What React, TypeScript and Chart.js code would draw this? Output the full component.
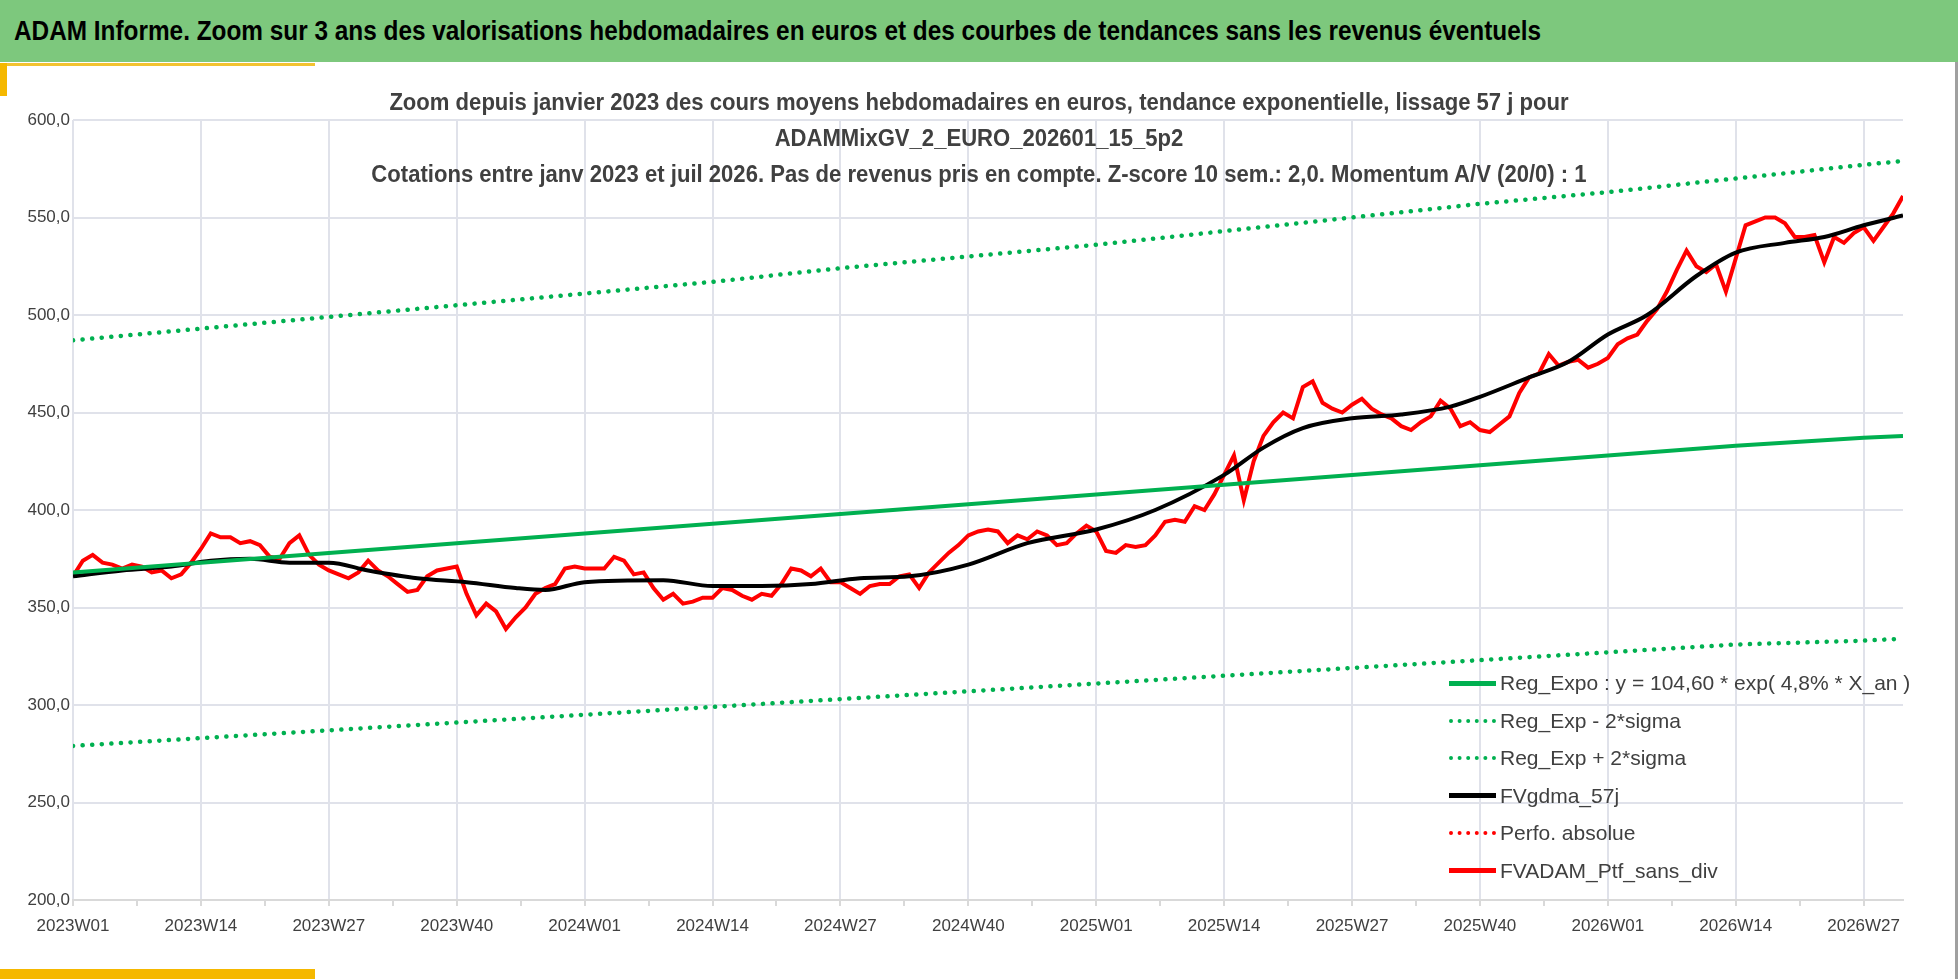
import React, { useEffect, useRef } from "react";
import { Chart, registerables } from "chart.js";
Chart.register(...registerables);

const years = [2023, 2024, 2025, 2026];
const weeksPerYear = [52, 52, 52, 53];
const tickStep = 13;

const trendIdx = [0, 13, 26, 39, 52, 65, 78, 91, 104, 117, 130, 143, 156, 169, 182, 186];
const regExpo = [368, 373, 378, 383, 388, 393, 398, 403, 408, 413, 418, 423, 428, 433, 437, 438];
const regUpper = [487, 493, 499, 505, 511, 517, 524, 530, 536, 543, 550, 557, 563, 570, 577, 579];
const regLower = [279, 283, 287, 291, 295, 299, 303, 307, 311, 315, 319, 323, 327, 331, 333, 334];

const maIdx = [0, 5, 10, 14, 18, 22, 26, 30, 35, 40, 45, 48, 52, 60, 65, 70, 75, 80, 85, 91, 97, 104, 110, 117, 121, 125, 130, 135, 140, 143, 148, 152, 156, 160, 165, 169, 174, 178, 182, 186];
const maVals = [366, 369, 371, 374, 375, 373, 373, 369, 365, 363, 360, 359, 363, 364, 361, 361, 362, 365, 366, 372, 383, 390, 400, 418, 432, 442, 447, 449, 453, 458, 468, 476, 490, 500, 520, 532, 537, 540, 546, 551];

const ptf = [
  366, 374, 377, 373, 372, 370, 372, 371, 368, 369, 365, 367, 373, 380, 388,
  386, 386, 383, 384, 382, 376, 375, 383, 387, 377, 372, 369,
  367, 365, 368, 374, 369, 366, 362, 358, 359, 366, 369, 370, 371, 357,
  346, 352, 348, 339, 345, 350, 357, 360, 362, 370, 371, 370,
  370, 370, 376, 374, 367, 368, 360, 354, 357, 352, 353, 355, 355, 360,
  359, 356, 354, 357, 356, 362, 370, 369, 366, 370, 363, 363,
  360, 357, 361, 362, 362, 366, 367, 360, 368, 373, 378, 382, 387,
  389, 390, 389, 383, 387, 385, 389, 387, 382, 383, 388, 392, 389,
  379, 378, 382, 381, 382, 387, 394, 395, 394, 402, 400, 408, 418, 428, 405, 425,
  438, 445, 450, 447, 463, 466, 455, 452, 450, 454, 457, 452, 449, 447, 443,
  441, 445, 448, 456, 452, 443, 445, 441, 440, 444, 448, 460, 468, 470, 480,
  474, 476, 477, 473, 475, 478, 485, 488, 490, 497, 503, 512, 523, 533, 525,
  522, 526, 512, 529, 546, 548, 550, 550, 547, 540, 540, 541, 527, 540, 537, 542, 545, 538, 545, 552, 561,
];

const legendItems = [
  { label: "Reg_Expo : y = 104,60 * exp( 4,8% *  X_an )", color: "#00B050", dotted: false },
  { label: "Reg_Exp - 2*sigma", color: "#00B050", dotted: true },
  { label: "Reg_Exp + 2*sigma", color: "#00B050", dotted: true },
  { label: "FVgdma_57j", color: "#000000", dotted: false },
  { label: "Perfo. absolue", color: "#FF0000", dotted: true },
  { label: "FVADAM_Ptf_sans_div", color: "#FF0000", dotted: false },
];

const weekLabels: string[] = [];
years.forEach((y, i) => {
  for (let w = 1; w <= weeksPerYear[i]; w++) weekLabels.push(`${y}W${String(w).padStart(2, "0")}`);
});

const pts = (idx: number[], v: number[]) => idx.map((x, i) => ({ x, y: v[i] }));

export default function App() {
  const ref = useRef<HTMLCanvasElement>(null);
  useEffect(() => {
    document.body.style.margin = "0";
    const font = "'Liberation Sans', sans-serif";
    const chart = new Chart(ref.current!, {
      type: "line",
      data: {
        datasets: [
          { data: pts(trendIdx, regUpper), borderColor: "#00B050", borderWidth: 4.5, borderDash: [0.1, 9.5], borderCapStyle: "round", pointRadius: 0 },
          { data: pts(trendIdx, regLower), borderColor: "#00B050", borderWidth: 4.5, borderDash: [0.1, 9.5], borderCapStyle: "round", pointRadius: 0 },
          { data: pts(trendIdx, regExpo), borderColor: "#00B050", borderWidth: 4, pointRadius: 0 },
          { data: pts(maIdx, maVals), borderColor: "#000000", borderWidth: 4, pointRadius: 0, cubicInterpolationMode: "monotone" },
          { data: [], borderColor: "#FF0000", borderWidth: 3, borderDash: [0.1, 9] },
          { data: ptf.map((y, x) => ({ x, y })), borderColor: "#FF0000", borderWidth: 4, pointRadius: 0 },
        ] as any,
      },
      options: {
        animation: false,
        responsive: false,
        layout: { padding: { left: 10, right: 55, top: 120, bottom: 30 } },
        plugins: { legend: { display: false }, tooltip: { enabled: false } },
        scales: {
          x: {
            type: "linear",
            min: 0,
            max: 186,
            afterFit: (s: any) => { s.height = 49; },
            afterBuildTicks: (s: any) => {
              const t = [];
              for (let v = 0; v <= 186; v += tickStep / 2) t.push({ value: v });
              s.ticks = t;
            },
            ticks: {
              autoSkip: false,
              maxRotation: 0,
              color: "#404040",
              font: { family: font, size: 17 },
              padding: 10,
              callback: (v: any) => (v % tickStep === 0 ? weekLabels[v] : ""),
            },
            grid: {
              color: (c: any) => (c.tick && c.tick.value % tickStep === 0 ? "#E0E2EA" : "rgba(0,0,0,0)"),
              tickColor: "#D9D9D9",
              tickLength: 6,
              lineWidth: 2,
            },
            border: { color: "#D9D9D9", width: 2 },
          },
          y: {
            min: 200,
            max: 600,
            afterFit: (s: any) => { s.width = 63; },
            ticks: { stepSize: 50, color: "#404040", font: { family: font, size: 17 }, callback: (v: any) => Number(v).toFixed(1).replace(".", ",") },
            grid: { color: "#E0E2EA", lineWidth: 2, drawTicks: false },
            border: { display: false },
          },
        },
      },
    });
    return () => chart.destroy();
  }, []);

  const font = "'Liberation Sans', sans-serif";
  return (
    <div style={{ position: "relative", width: 1958, height: 979, background: "#fff", overflow: "hidden", fontFamily: font }}>
      <div style={{ position: "absolute", left: 0, top: 0, width: 1958, height: 62, background: "#7DC87D", borderBottom: "2px solid #fff" }} />
      <div style={{ position: "absolute", left: 14, top: 15, fontSize: 28, fontWeight: "bold", color: "#000", whiteSpace: "nowrap", transform: "scaleX(0.87)", transformOrigin: "left center" }}>
        ADAM Informe. Zoom sur 3 ans des valorisations hebdomadaires en euros et des courbes de tendances sans les revenus éventuels
      </div>
      <div style={{ position: "absolute", left: 0, top: 63, width: 315, height: 3, background: "#F2C230" }} />
      <div style={{ position: "absolute", left: 0, top: 63, width: 7, height: 33, background: "#F5B800" }} />
      <div style={{ position: "absolute", left: 0, top: 969, width: 315, height: 10, background: "#F5B800" }} />
      <div style={{ position: "absolute", right: 0, top: 62, width: 3, height: 917, background: "#A0A0A0" }} />
      <canvas ref={ref} width={1958} height={979} style={{ position: "absolute", left: 0, top: 0 }} />
      <div style={{ position: "absolute", left: 0, width: 1958, top: 84, textAlign: "center", fontSize: 23, fontWeight: "bold", color: "#404040", lineHeight: "36px", transform: "scaleX(0.96)" }}>
        <div>Zoom depuis janvier 2023 des cours moyens hebdomadaires en euros, tendance exponentielle, lissage 57 j pour</div>
        <div>ADAMMixGV_2_EURO_202601_15_5p2</div>
        <div>Cotations entre janv 2023 et juil 2026. Pas de revenus pris en compte. Z-score 10 sem.: 2,0. Momentum A/V (20/0) : 1</div>
      </div>
      {legendItems.map((it, i) => (
        <div key={i} style={{ position: "absolute", left: 1449, top: 670 + i * 37.5, height: 26, display: "flex", alignItems: "center", fontSize: 21, color: "#404040" }}>
          <div style={{ width: 47, height: 0, borderTop: it.dotted ? `4px dotted ${it.color}` : `5px solid ${it.color}`, marginRight: 4 }} />
          <span>{it.label}</span>
        </div>
      ))}
    </div>
  );
}
